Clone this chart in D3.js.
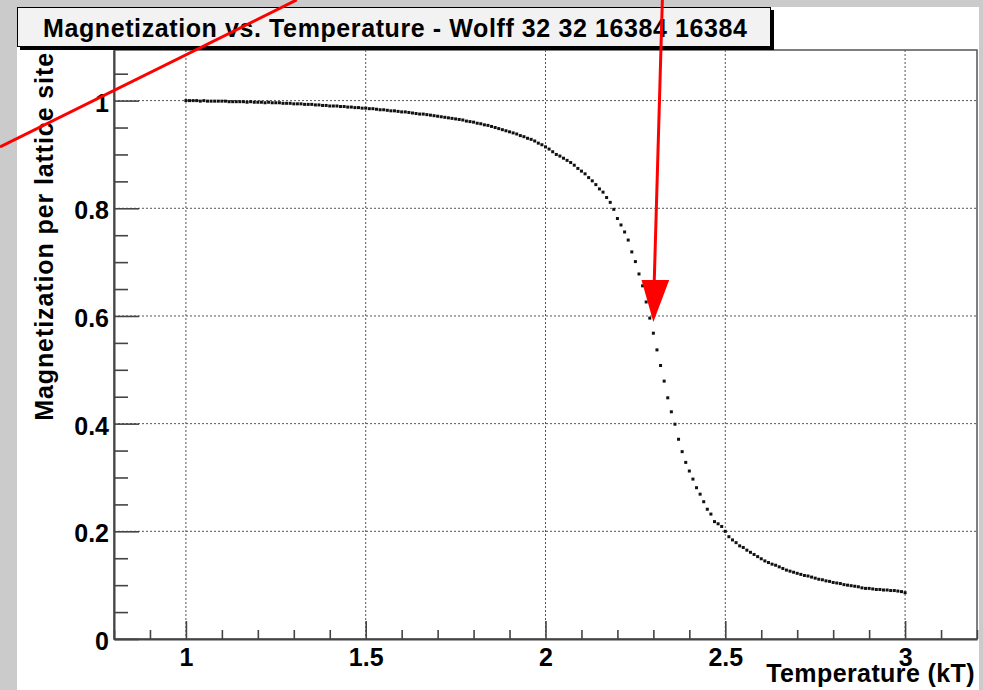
<!DOCTYPE html>
<html>
<head>
<meta charset="utf-8">
<script src="https://cdn.jsdelivr.net/npm/d3@7"></script>
<style>
  body { margin: 0; background: #cbcbcb; }
  svg { display: block; }
  text { font-family: "Liberation Sans", Arial, Helvetica, sans-serif; font-weight: bold; fill: #000; }
</style>
</head>
<body>
<svg id="chart" width="983" height="690"></svg>
<script>
// Chart text
const chartTitle = "Magnetization vs. Temperature - Wolff 32 32 16384 16384";
const xTitle = "Temperature (kT)";
const yTitle = "Magnetization per lattice site";

// Axis ticks
const xTicks = [1, 1.5, 2, 2.5, 3];
const yTicks = [0, 0.2, 0.4, 0.6, 0.8, 1];

// Measured points (temperature in kT)
const temperature = [
  1.00, 1.01, 1.02, 1.03, 1.04, 1.05, 1.06, 1.07, 1.08, 1.09,
  1.10, 1.11, 1.12, 1.13, 1.14, 1.15, 1.16, 1.17, 1.18, 1.19,
  1.20, 1.21, 1.22, 1.23, 1.24, 1.25, 1.26, 1.27, 1.28, 1.29,
  1.30, 1.31, 1.32, 1.33, 1.34, 1.35, 1.36, 1.37, 1.38, 1.39,
  1.40, 1.41, 1.42, 1.43, 1.44, 1.45, 1.46, 1.47, 1.48, 1.49,
  1.50, 1.51, 1.52, 1.53, 1.54, 1.55, 1.56, 1.57, 1.58, 1.59,
  1.60, 1.61, 1.62, 1.63, 1.64, 1.65, 1.66, 1.67, 1.68, 1.69,
  1.70, 1.71, 1.72, 1.73, 1.74, 1.75, 1.76, 1.77, 1.78, 1.79,
  1.80, 1.81, 1.82, 1.83, 1.84, 1.85, 1.86, 1.87, 1.88, 1.89,
  1.90, 1.91, 1.92, 1.93, 1.94, 1.95, 1.96, 1.97, 1.98, 1.99,
  2.00, 2.01, 2.02, 2.03, 2.04, 2.05, 2.06, 2.07, 2.08, 2.09,
  2.10, 2.11, 2.12, 2.13, 2.14, 2.15, 2.16, 2.17, 2.18, 2.19,
  2.20, 2.21, 2.22, 2.23, 2.24, 2.25, 2.26, 2.27, 2.28, 2.29,
  2.30, 2.31, 2.32, 2.33, 2.34, 2.35, 2.36, 2.37, 2.38, 2.39,
  2.40, 2.41, 2.42, 2.43, 2.44, 2.45, 2.46, 2.47, 2.48, 2.49,
  2.50, 2.51, 2.52, 2.53, 2.54, 2.55, 2.56, 2.57, 2.58, 2.59,
  2.60, 2.61, 2.62, 2.63, 2.64, 2.65, 2.66, 2.67, 2.68, 2.69,
  2.70, 2.71, 2.72, 2.73, 2.74, 2.75, 2.76, 2.77, 2.78, 2.79,
  2.80, 2.81, 2.82, 2.83, 2.84, 2.85, 2.86, 2.87, 2.88, 2.89,
  2.90, 2.91, 2.92, 2.93, 2.94, 2.95, 2.96, 2.97, 2.98, 2.99,
  3.00
];

// Magnetization per lattice site at each temperature
const magnetization = [
  1.000, 1.000, 1.000, 1.000, 0.999, 1.000, 0.999, 0.999, 0.999, 0.999,
  0.999, 0.999, 0.998, 0.998, 0.998, 0.998, 0.998, 0.997, 0.998, 0.997,
  0.997, 0.997, 0.996, 0.997, 0.996, 0.996, 0.996, 0.995, 0.995, 0.995,
  0.994, 0.994, 0.994, 0.993, 0.993, 0.993, 0.992, 0.992, 0.991, 0.991,
  0.990, 0.990, 0.990, 0.989, 0.989, 0.988, 0.988, 0.987, 0.987, 0.986,
  0.986, 0.985, 0.985, 0.984, 0.983, 0.983, 0.982, 0.981, 0.981, 0.980,
  0.979, 0.979, 0.978, 0.977, 0.976, 0.975, 0.975, 0.974, 0.973, 0.972,
  0.971, 0.970, 0.969, 0.968, 0.967, 0.966, 0.965, 0.964, 0.962, 0.961,
  0.960, 0.958, 0.957, 0.955, 0.954, 0.952, 0.950, 0.948, 0.946, 0.944,
  0.942, 0.940, 0.938, 0.935, 0.933, 0.930, 0.928, 0.925, 0.921, 0.918,
  0.914, 0.910, 0.905, 0.900, 0.897, 0.893, 0.889, 0.885, 0.880, 0.874,
  0.869, 0.864, 0.857, 0.851, 0.844, 0.836, 0.830, 0.820, 0.811, 0.798,
  0.781, 0.769, 0.756, 0.741, 0.719, 0.701, 0.678, 0.656, 0.626, 0.596,
  0.568, 0.537, 0.508, 0.479, 0.448, 0.422, 0.399, 0.371, 0.348, 0.328,
  0.312, 0.297, 0.281, 0.269, 0.255, 0.241, 0.232, 0.218, 0.214, 0.209,
  0.200, 0.190, 0.184, 0.179, 0.173, 0.170, 0.165, 0.161, 0.157, 0.153,
  0.149, 0.145, 0.142, 0.139, 0.137, 0.134, 0.131, 0.128, 0.126, 0.124,
  0.122, 0.120, 0.118, 0.117, 0.115, 0.113, 0.111, 0.110, 0.108, 0.107,
  0.105, 0.104, 0.103, 0.101, 0.100, 0.099, 0.098, 0.097, 0.095, 0.094,
  0.094, 0.093, 0.092, 0.092, 0.091, 0.091, 0.090, 0.090, 0.089, 0.088,
  0.086
];

// Red annotations drawn over the plot, in data units (T, M)
const slashLine = [[0.483, 0.914], [1.308, 1.187]];
const arrowShaft = [[2.325, 1.187], [2.302, 0.655]];
const arrowHead = [[2.267, 0.667], [2.344, 0.667], [2.300, 0.589]];

const svg = d3.select("#chart");

// Canvas and frame geometry
const canvas = { left: 17, top: 7, right: 979, bottom: 690 };
const frame = { left: 114, top: 50, right: 977, bottom: 639 };

const x = d3.scaleLinear().domain([0.8, 3.2]).range([frame.left, frame.right]);
const y = d3.scaleLinear().domain([0, 1.094]).range([frame.bottom, frame.top]);

// White pad
svg.append("rect")
  .attr("x", canvas.left).attr("y", canvas.top)
  .attr("width", canvas.right - canvas.left)
  .attr("height", canvas.bottom - canvas.top)
  .attr("fill", "#fff");

// Frame box (top and right sides)
svg.append("rect")
  .attr("x", frame.left).attr("y", frame.top)
  .attr("width", frame.right - frame.left)
  .attr("height", frame.bottom - frame.top)
  .attr("fill", "none")
  .attr("stroke", "#555")
  .attr("stroke-width", 1.5);

// Grid lines
const grid = svg.append("g")
  .attr("stroke", "#555")
  .attr("stroke-width", 1)
  .attr("stroke-dasharray", "2,2");

grid.selectAll(".gx")
  .data(xTicks)
  .enter().append("line")
  .attr("x1", d => x(d)).attr("x2", d => x(d))
  .attr("y1", frame.top).attr("y2", frame.bottom);

grid.selectAll(".gy")
  .data(yTicks.filter(d => d > 0))
  .enter().append("line")
  .attr("x1", frame.left).attr("x2", frame.right)
  .attr("y1", d => y(d)).attr("y2", d => y(d));

// Minor ticks
const xMinor = x.ticks(24).filter(t => !xTicks.some(m => Math.abs(m - t) < 1e-6));
const yMinor = y.ticks(22).filter(t => !yTicks.some(m => Math.abs(m - t) < 1e-6));

svg.append("g")
  .attr("transform", `translate(0,${frame.bottom})`)
  .call(d3.axisBottom(x).tickValues(xMinor).tickSize(-9).tickFormat(""))
  .call(g => g.select(".domain").remove())
  .selectAll("line").attr("stroke", "#444").attr("stroke-width", 1.6);

svg.append("g")
  .attr("transform", `translate(${frame.left},0)`)
  .call(d3.axisLeft(y).tickValues(yMinor).tickSize(-14).tickFormat(""))
  .call(g => g.select(".domain").remove())
  .selectAll("line").attr("stroke", "#444").attr("stroke-width", 1.6);

// Major axes
const xAxis = svg.append("g")
  .attr("transform", `translate(0,${frame.bottom})`)
  .call(d3.axisBottom(x).tickValues(xTicks).tickSizeInner(-18).tickSizeOuter(0)
    .tickPadding(9).tickFormat(d3.format("")));

const yAxis = svg.append("g")
  .attr("transform", `translate(${frame.left},0)`)
  .call(d3.axisLeft(y).tickValues(yTicks).tickSizeInner(-25).tickSizeOuter(0)
    .tickPadding(5).tickFormat(d3.format("")));

[xAxis, yAxis].forEach(ax => {
  ax.select(".domain").attr("stroke", "#444").attr("stroke-width", 2);
  ax.selectAll(".tick line").attr("stroke", "#444").attr("stroke-width", 1.6);
  ax.selectAll(".tick text")
    .attr("fill", "#000")
    .style("font-family", '"Liberation Sans", Arial, sans-serif')
    .style("font-weight", "bold")
    .style("font-size", "25px");
});
yAxis.selectAll(".tick text").attr("dy", "0.42em");

// Data points
svg.append("g")
  .selectAll("rect")
  .data(temperature.map((t, i) => [t, magnetization[i]]))
  .enter().append("rect")
  .attr("x", d => x(d[0]) - 1.5)
  .attr("y", d => y(d[1]) - 1.5)
  .attr("width", 3)
  .attr("height", 3)
  .attr("fill", "#111");

// Title box with shadow
const titleBox = { x: 17, y: 7, w: 754, h: 40, shadow: 3 };
svg.append("rect")
  .attr("x", titleBox.x + titleBox.shadow).attr("y", titleBox.y + titleBox.shadow)
  .attr("width", titleBox.w).attr("height", titleBox.h)
  .attr("fill", "#000");
svg.append("rect")
  .attr("x", titleBox.x + 0.5).attr("y", titleBox.y + 0.5)
  .attr("width", titleBox.w - 1).attr("height", titleBox.h - 1)
  .attr("fill", "#f2f2f2")
  .attr("stroke", "#000");
svg.append("text")
  .attr("x", 43).attr("y", 37)
  .style("font-size", "25px")
  .style("letter-spacing", "0.6px")
  .text(chartTitle);

// Axis titles
svg.append("text")
  .attr("x", 975).attr("y", 682)
  .attr("text-anchor", "end")
  .style("font-size", "25px")
  .style("letter-spacing", "0.4px")
  .text(xTitle);

svg.append("text")
  .attr("transform", "translate(53,52) rotate(-90)")
  .attr("text-anchor", "end")
  .style("font-size", "25px")
  .style("letter-spacing", "0.9px")
  .text(yTitle);

// Red annotation marks
const line = d3.line().x(d => x(d[0])).y(d => y(d[1]));
svg.append("path")
  .attr("d", line(slashLine))
  .attr("stroke", "#ff0000").attr("stroke-width", 3).attr("fill", "none");
svg.append("path")
  .attr("d", line(arrowShaft))
  .attr("stroke", "#ff0000").attr("stroke-width", 3).attr("fill", "none");
svg.append("path")
  .attr("d", line(arrowHead) + "Z")
  .attr("fill", "#ff0000");
</script>
</body>
</html>
